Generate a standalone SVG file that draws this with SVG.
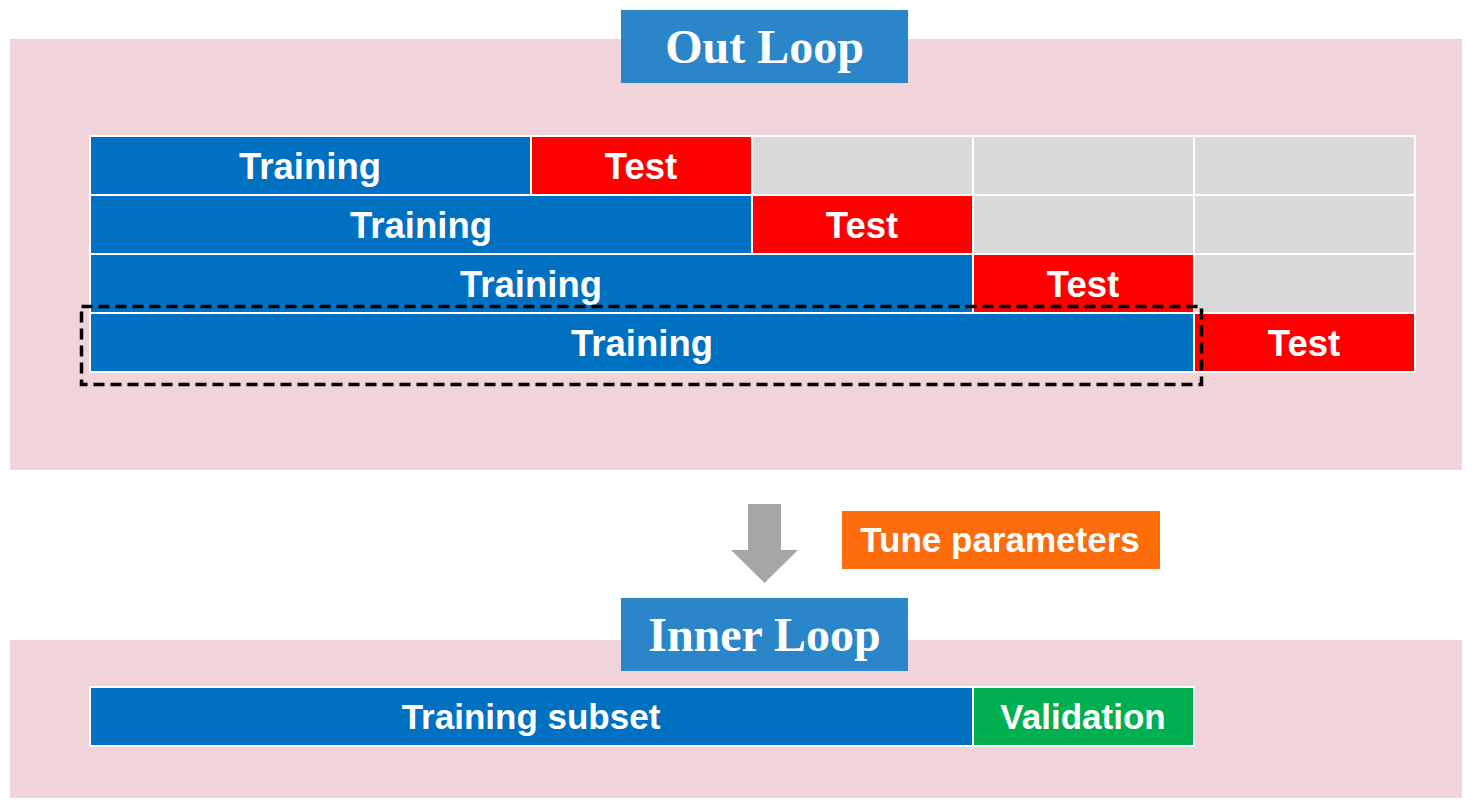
<svg xmlns="http://www.w3.org/2000/svg" width="1475" height="806" viewBox="0 0 1475 806">
<style>
.panel{fill:#F0D4D9}
.title{fill:#2A86C8}
.titletxt{font-family:"Liberation Serif","Times New Roman",serif;font-weight:bold;font-size:48px;fill:#fff;text-anchor:middle}
.cell{stroke:#fff;stroke-width:2}
.tr{fill:#0070C0}
.te{fill:#FF0000}
.em{fill:#D9D9D9}
.va{fill:#00B050}
.lbl{font-family:"Liberation Sans",Arial,sans-serif;font-weight:bold;font-size:36.5px;fill:#fff;text-anchor:middle}
.lbl2{font-family:"Liberation Sans",Arial,sans-serif;font-weight:bold;font-size:35px;fill:#fff;text-anchor:middle}
</style>
<rect width="1475" height="806" fill="#fff"/>
<g id="outer-panel">
<rect class="panel" x="10" y="39" width="1452" height="431"/>
</g>
<g id="out-loop-title">
<rect class="title" x="621" y="10" width="287" height="73"/>
<text class="titletxt" x="764.5" y="63">Out Loop</text>
</g>
<g id="row1">
<rect class="cell tr" x="90" y="136" width="441" height="59"/>
<text class="lbl" x="310" y="179">Training</text>
<rect class="cell te" x="531" y="136" width="221" height="59"/>
<text class="lbl" x="641" y="179">Test</text>
<rect class="cell em" x="752" y="136" width="221" height="59"/>
<rect class="cell em" x="973" y="136" width="221" height="59"/>
<rect class="cell em" x="1194" y="136" width="221" height="59"/>
</g>
<g id="row2">
<rect class="cell tr" x="90" y="195" width="662" height="59"/>
<text class="lbl" x="421" y="238">Training</text>
<rect class="cell te" x="752" y="195" width="221" height="59"/>
<text class="lbl" x="862" y="238">Test</text>
<rect class="cell em" x="973" y="195" width="221" height="59"/>
<rect class="cell em" x="1194" y="195" width="221" height="59"/>
</g>
<g id="row3">
<rect class="cell tr" x="90" y="254" width="883" height="59"/>
<text class="lbl" x="531" y="297">Training</text>
<rect class="cell te" x="973" y="254" width="221" height="59"/>
<text class="lbl" x="1083" y="297">Test</text>
<rect class="cell em" x="1194" y="254" width="221" height="59"/>
</g>
<g id="row4">
<rect class="cell tr" x="90" y="313" width="1104" height="59"/>
<text class="lbl" x="642" y="356">Training</text>
<rect class="cell te" x="1194" y="313" width="221" height="59"/>
<text class="lbl" x="1304" y="356">Test</text>
</g>
<g id="selection">
<rect x="81.5" y="306.5" width="1120" height="78" fill="none" stroke="#000" stroke-width="3.5" stroke-dasharray="11 6"/>
</g>
<g id="connectors">
<polygon points="748,504 781,504 781,550 798,550 764.5,583 731,550 748,550" fill="#A6A6A6"/>
</g>
<g id="tune">
<rect x="842" y="511" width="318" height="58" fill="#FF6C0C"/>
<text class="lbl2" x="1000" y="552">Tune parameters</text>
</g>
<g id="inner-panel">
<rect class="panel" x="10" y="640" width="1452" height="158"/>
</g>
<g id="inner-loop-title">
<rect class="title" x="621" y="598" width="287" height="73"/>
<text class="titletxt" x="764.5" y="651">Inner Loop</text>
</g>
<g id="inner-row">
<rect class="cell tr" x="90" y="687" width="883" height="59"/>
<text class="lbl2" x="531" y="729">Training subset</text>
<rect class="cell va" x="973" y="687" width="221" height="59"/>
<text class="lbl2" x="1083" y="729">Validation</text>
</g>
</svg>
